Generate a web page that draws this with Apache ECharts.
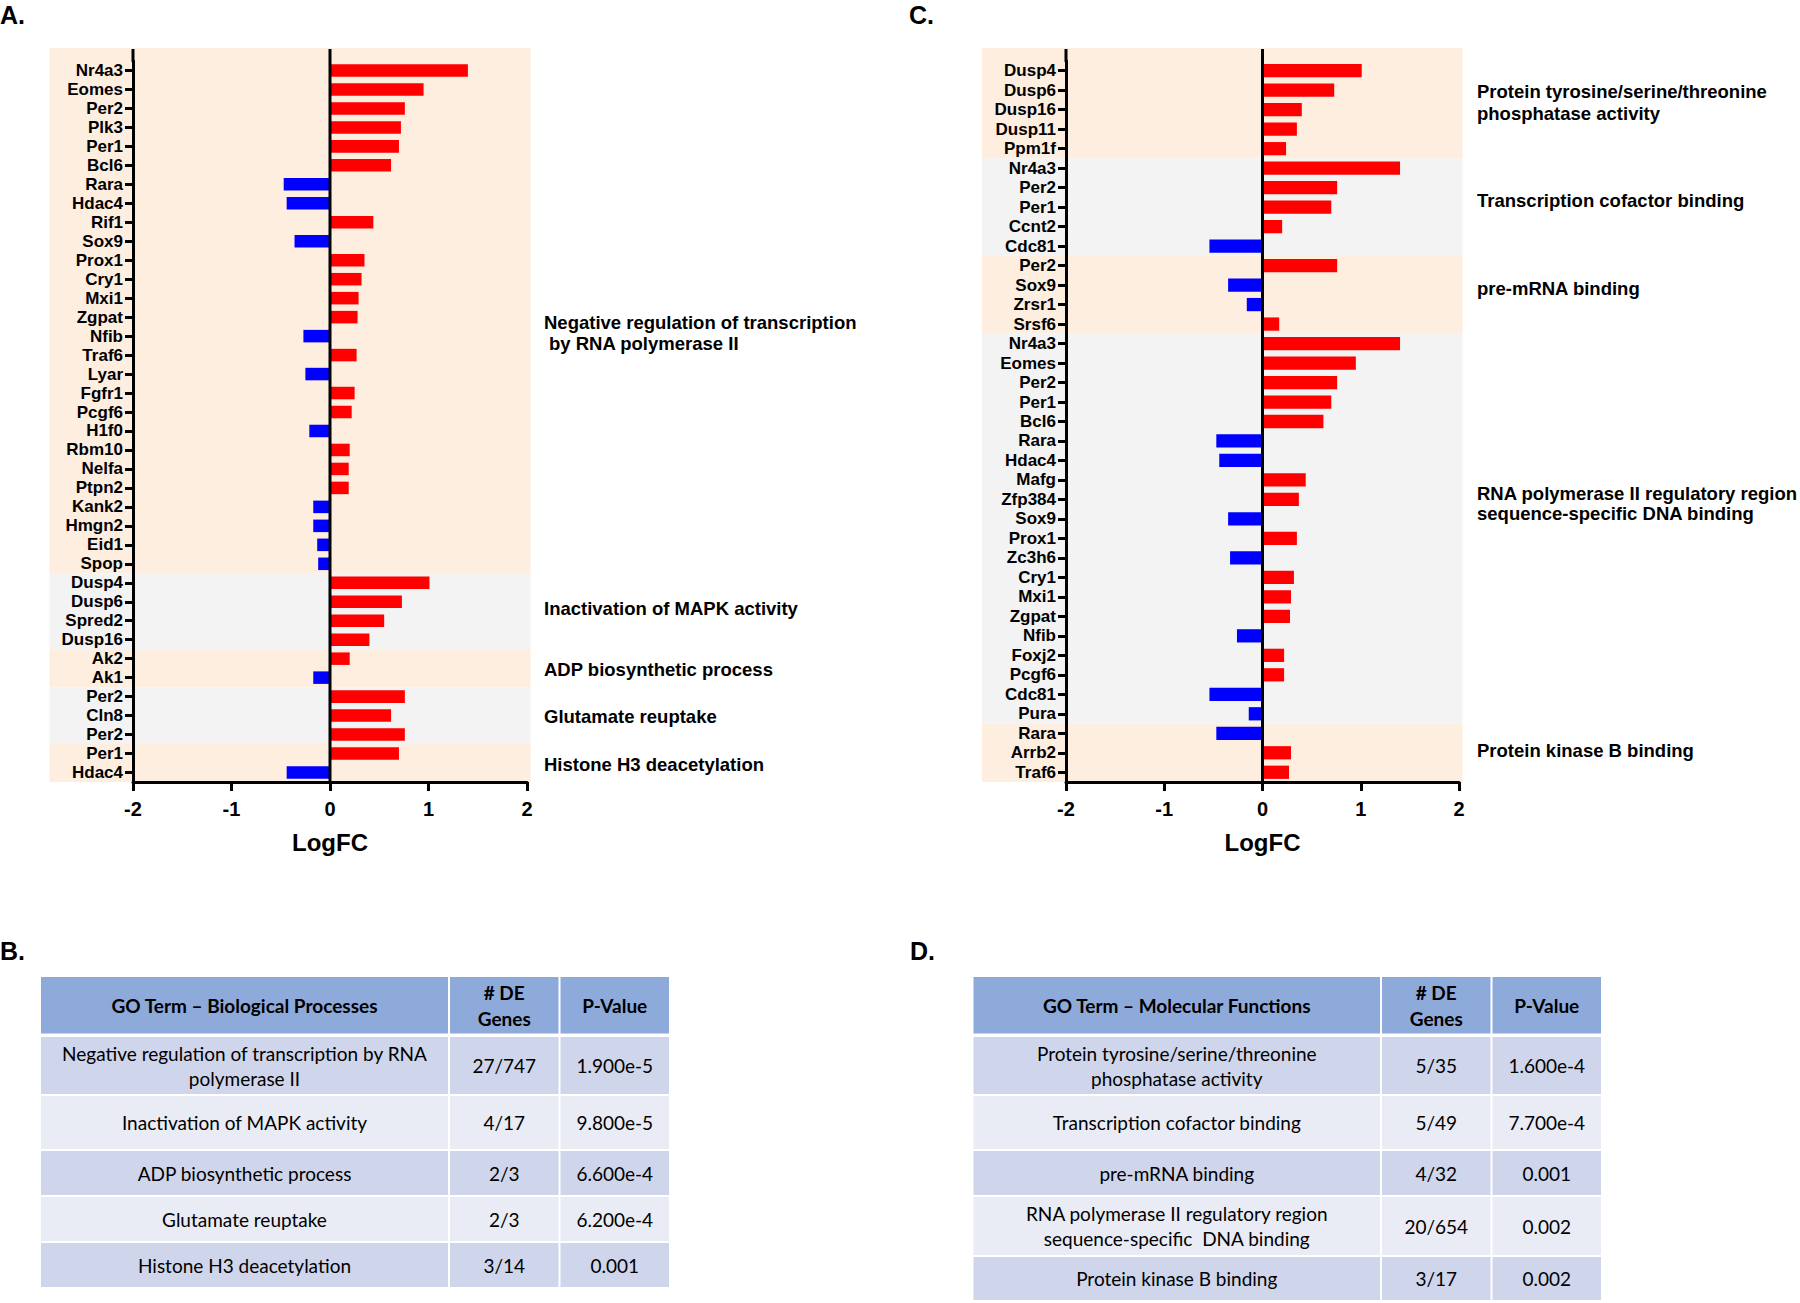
<!DOCTYPE html>
<html><head><meta charset="utf-8">
<script src="https://cdn.jsdelivr.net/npm/echarts@6/dist/echarts.min.js"></script>
<style>html,body{margin:0;padding:0;background:#fff;}#chart{width:1800px;height:1303px;}</style>
</head><body><div id="chart"></div>
<script>
// ---------------- DATA ----------------
// Panel A (GO Biological Processes)
const genesA = ['Nr4a3','Eomes','Per2','Plk3','Per1','Bcl6','Rara','Hdac4','Rif1','Sox9','Prox1','Cry1','Mxi1','Zgpat','Nfib','Traf6','Lyar','Fgfr1','Pcgf6','H1f0','Rbm10','Nelfa','Ptpn2','Kank2','Hmgn2','Eid1','Spop','Dusp4','Dusp6','Spred2','Dusp16','Ak2','Ak1','Per2','Cln8','Per2','Per1','Hdac4'];
const logfcA = [1.40,0.95,0.76,0.72,0.70,0.62,-0.47,-0.44,0.44,-0.36,0.35,0.32,0.29,0.28,-0.27,0.27,-0.25,0.25,0.22,-0.21,0.20,0.19,0.19,-0.17,-0.17,-0.13,-0.12,1.01,0.73,0.55,0.40,0.20,-0.17,0.76,0.62,0.76,0.70,-0.44];
const groupSizesA = [27,4,2,3,2];
const groupLabelsA = ['Negative regulation of transcription\n by RNA polymerase II','Inactivation of MAPK activity','ADP biosynthetic process','Glutamate reuptake','Histone H3 deacetylation'];

// Panel C (GO Molecular Functions)
const genesC = ['Dusp4','Dusp6','Dusp16','Dusp11','Ppm1f','Nr4a3','Per2','Per1','Ccnt2','Cdc81','Per2','Sox9','Zrsr1','Srsf6','Nr4a3','Eomes','Per2','Per1','Bcl6','Rara','Hdac4','Mafg','Zfp384','Sox9','Prox1','Zc3h6','Cry1','Mxi1','Zgpat','Nfib','Foxj2','Pcgf6','Cdc81','Pura','Rara','Arrb2','Traf6'];
const logfcC = [1.01,0.73,0.40,0.35,0.24,1.40,0.76,0.70,0.20,-0.54,0.76,-0.35,-0.16,0.17,1.40,0.95,0.76,0.70,0.62,-0.47,-0.44,0.44,0.37,-0.35,0.35,-0.33,0.32,0.29,0.28,-0.26,0.22,0.22,-0.54,-0.14,-0.47,0.29,0.27];
const groupSizesC = [5,5,4,20,3];
const groupLabelsC = ['Protein tyrosine/serine/threonine\nphosphatase activity','Transcription cofactor binding','pre-mRNA binding','RNA polymerase II regulatory region\nsequence-specific DNA binding','Protein kinase B binding'];

const xTicks = [-2,-1,0,1,2];
const axisTitle = 'LogFC';
const panelLetters = ['A.','B.','C.','D.'];

// Table B
const headerB = ['GO Term \u2013 Biological Processes','# DE\nGenes','P-Value'];
const termsB = ['Negative regulation of transcription by RNA\npolymerase II','Inactivation of MAPK activity','ADP biosynthetic process','Glutamate reuptake','Histone H3 deacetylation'];
const countsB = ['27/747','4/17','2/3','2/3','3/14'];
const pvalsB = ['1.900e-5','9.800e-5','6.600e-4','6.200e-4','0.001'];
// Table D
const headerD = ['GO Term \u2013 Molecular Functions','# DE\nGenes','P-Value'];
const termsD = ['Protein tyrosine/serine/threonine\nphosphatase activity','Transcription cofactor binding','pre-mRNA binding','RNA polymerase II regulatory region\nsequence-specific  DNA binding','Protein kinase B binding'];
const countsD = ['5/35','5/49','4/32','20/654','3/17'];
const pvalsD = ['1.600e-4','7.700e-4','0.001','0.002','0.002'];

// ---------------- STYLE / LAYOUT ----------------
const FONT = 'Liberation Sans, Arial, sans-serif';
const TFONT = 'Lato, Open Sans, sans-serif';
const RED = '#FF0000', BLUE = '#0000FF', PEACH = '#FEEEE0', GRAY = '#F3F3F3';
const HEAD = '#8EAADB', ROW1 = '#CFD5EA', ROW2 = '#E9EBF5';

const panels = [
  {grid:{left:133, top:61, width:394, height:721}, genes:genesA, vals:logfcA, sizes:groupSizesA, gap:'34%', bgL:83.5, bgR:3.5,
   labels:groupLabelsA, labelX:544, labelY:[[322,343.5],[608],[669],[716],[764]]},
  {grid:{left:1066, top:61, width:393, height:721}, genes:genesC, vals:logfcC, sizes:groupSizesC, gap:'32%', bgL:84, bgR:3.5,
   labels:groupLabelsC, labelX:1477, labelY:[[91.5,113],[200],[288.5],[493,513.5],[750]]}
];

function bandData(sizes){
  let s = 0;
  return sizes.map((n,i)=>{ const d=[s, s+n-1, i%2]; s+=n; return d; });
}

const grids=[], xAxes=[], yAxes=[], series=[], graphics=[];

panels.forEach((p,i)=>{
  grids.push(p.grid);
  xAxes.push({type:'value', gridIndex:i, min:xTicks[0], max:xTicks[xTicks.length-1], interval:1, z:10,
    axisLine:{show:true, onZero:false, lineStyle:{color:'#000', width:3}},
    axisTick:{show:true, length:9, lineStyle:{color:'#000', width:3}},
    axisLabel:{color:'#000', fontFamily:FONT, fontWeight:'bold', fontSize:20, margin:17},
    splitLine:{show:false},
    name:axisTitle, nameLocation:'middle', nameGap:48,
    nameTextStyle:{color:'#000', fontFamily:FONT, fontWeight:'bold', fontSize:24}});
  yAxes.push({type:'category', gridIndex:i, data:p.genes, inverse:true, z:10,
    axisLine:{show:true, onZero:false, lineStyle:{color:'#000', width:3}},
    axisTick:{show:true, alignWithLabel:true, length:8, lineStyle:{color:'#000', width:3}},
    axisLabel:{color:'#000', fontFamily:FONT, fontWeight:'bold', fontSize:17, margin:10, interval:0},
    splitLine:{show:false}});
  const nBands = p.sizes.length;
  series.push({type:'custom', xAxisIndex:i, yAxisIndex:i, z:1, clip:false, silent:true,
    data:bandData(p.sizes), encode:{x:2, y:0},
    renderItem:(params, api)=>{
      const cs = params.coordSys;
      const s = api.value(0), e = api.value(1), c = api.value(2);
      const h = api.size([0,1])[1];
      let y0 = api.coord([0,s])[1] - h/2;
      let y1 = api.coord([0,e])[1] + h/2;
      if (params.dataIndex === 0) y0 = cs.y - 13;
      if (params.dataIndex === nBands-1) y1 = cs.y + cs.height;
      return {type:'rect', shape:{x:cs.x - p.bgL, y:y0, width:cs.width + p.bgL + p.bgR, height:y1-y0},
              style:{fill: c ? GRAY : PEACH}};
    }});
  series.push({type:'bar', xAxisIndex:i, yAxisIndex:i, z:3, data:p.vals, barCategoryGap:p.gap,
    itemStyle:{color:(prm)=> prm.value < 0 ? BLUE : RED}});
  series.push({type:'custom', xAxisIndex:i, yAxisIndex:i, z:12, clip:false, silent:true,
    data:[[0,0]], encode:{x:0, y:1},
    renderItem:(params, api)=>{
      const cs = params.coordSys;
      const zx = api.coord([0,0])[0];
      return {type:'group', children:[
        {type:'line', shape:{x1:zx, y1:cs.y-12, x2:zx, y2:cs.y+cs.height}, style:{stroke:'#000', lineWidth:3}},
        {type:'line', shape:{x1:cs.x, y1:cs.y-12, x2:cs.x, y2:cs.y+1}, style:{stroke:'#000', lineWidth:3}}
      ]};
    }});
  // group annotation labels
  p.labels.forEach((lab,k)=>{
    lab.split('\n').forEach((line,j)=>{
      const lead = line.startsWith(' ');
      graphics.push({type:'text', silent:true, z:20,
        style:{text:line.trim(), x:p.labelX + (lead?5:0), y:p.labelY[k][j], fill:'#000',
          fontFamily:FONT, fontWeight:'bold', fontSize:18.5, textAlign:'left', textVerticalAlign:'middle', align:'left', verticalAlign:'middle'}});
    });
  });
});

// Panel letters
[[0,15],[0,951],[909,15],[910,951]].forEach((pos,i)=>{
  graphics.push({type:'text', silent:true, z:20,
    style:{text:panelLetters[i], x:pos[0], y:pos[1], fill:'#000', fontFamily:FONT, fontWeight:'bold', fontSize:25,
      textAlign:'left', textVerticalAlign:'middle', align:'left', verticalAlign:'middle'}});
});

// Tables
function drawTable(xs, headY, rowYs, header, terms, counts, pvals){
  const cols = [terms, counts, pvals];
  for (let c=0;c<3;c++){
    const x0 = xs[c] + 1, x1 = xs[c+1] - 1;
    graphics.push({type:'rect', silent:true, z:5, shape:{x:x0, y:headY[0], width:x1-x0, height:headY[1]-headY[0]}, style:{fill:HEAD}});
    graphics.push({type:'text', silent:true, z:6,
      style:{text:header[c], x:(x0+x1)/2, y:(headY[0]+headY[1])/2, fill:'#000', fontFamily:TFONT, fontWeight:'bold', fontSize:19, lineHeight:26,
        textAlign:'center', textVerticalAlign:'middle', align:'center', verticalAlign:'middle'}});
    for (let r=0;r<terms.length;r++){
      const y0 = rowYs[r] + (r===0?0:1), y1 = rowYs[r+1] - 1;
      graphics.push({type:'rect', silent:true, z:5, shape:{x:x0, y:y0, width:x1-x0, height:y1-y0}, style:{fill: r%2===0 ? ROW1 : ROW2}});
      graphics.push({type:'text', silent:true, z:6,
        style:{text:cols[c][r], x:(x0+x1)/2, y:(y0+y1)/2, fill:'#000', fontFamily:TFONT, fontSize:19, lineHeight:25,
          textAlign:'center', textVerticalAlign:'middle', align:'center', verticalAlign:'middle'}});
    }
  }
}
drawTable([40,449,559.5,670],[977,1033.5],[1037,1095,1150,1196,1242,1288], headerB, termsB, countsB, pvalsB);
drawTable([972.5,1381,1491.5,1602],[977,1033.5],[1037,1095,1150,1196,1256,1301], headerD, termsD, countsD, pvalsD);

const chart = echarts.init(document.getElementById('chart'), null, {renderer:'svg', width:1800, height:1303});
chart.setOption({
  backgroundColor:'#fff',
  animation:false,
  grid:grids, xAxis:xAxes, yAxis:yAxes, series:series,
  graphic:graphics
});
</script></body></html>
